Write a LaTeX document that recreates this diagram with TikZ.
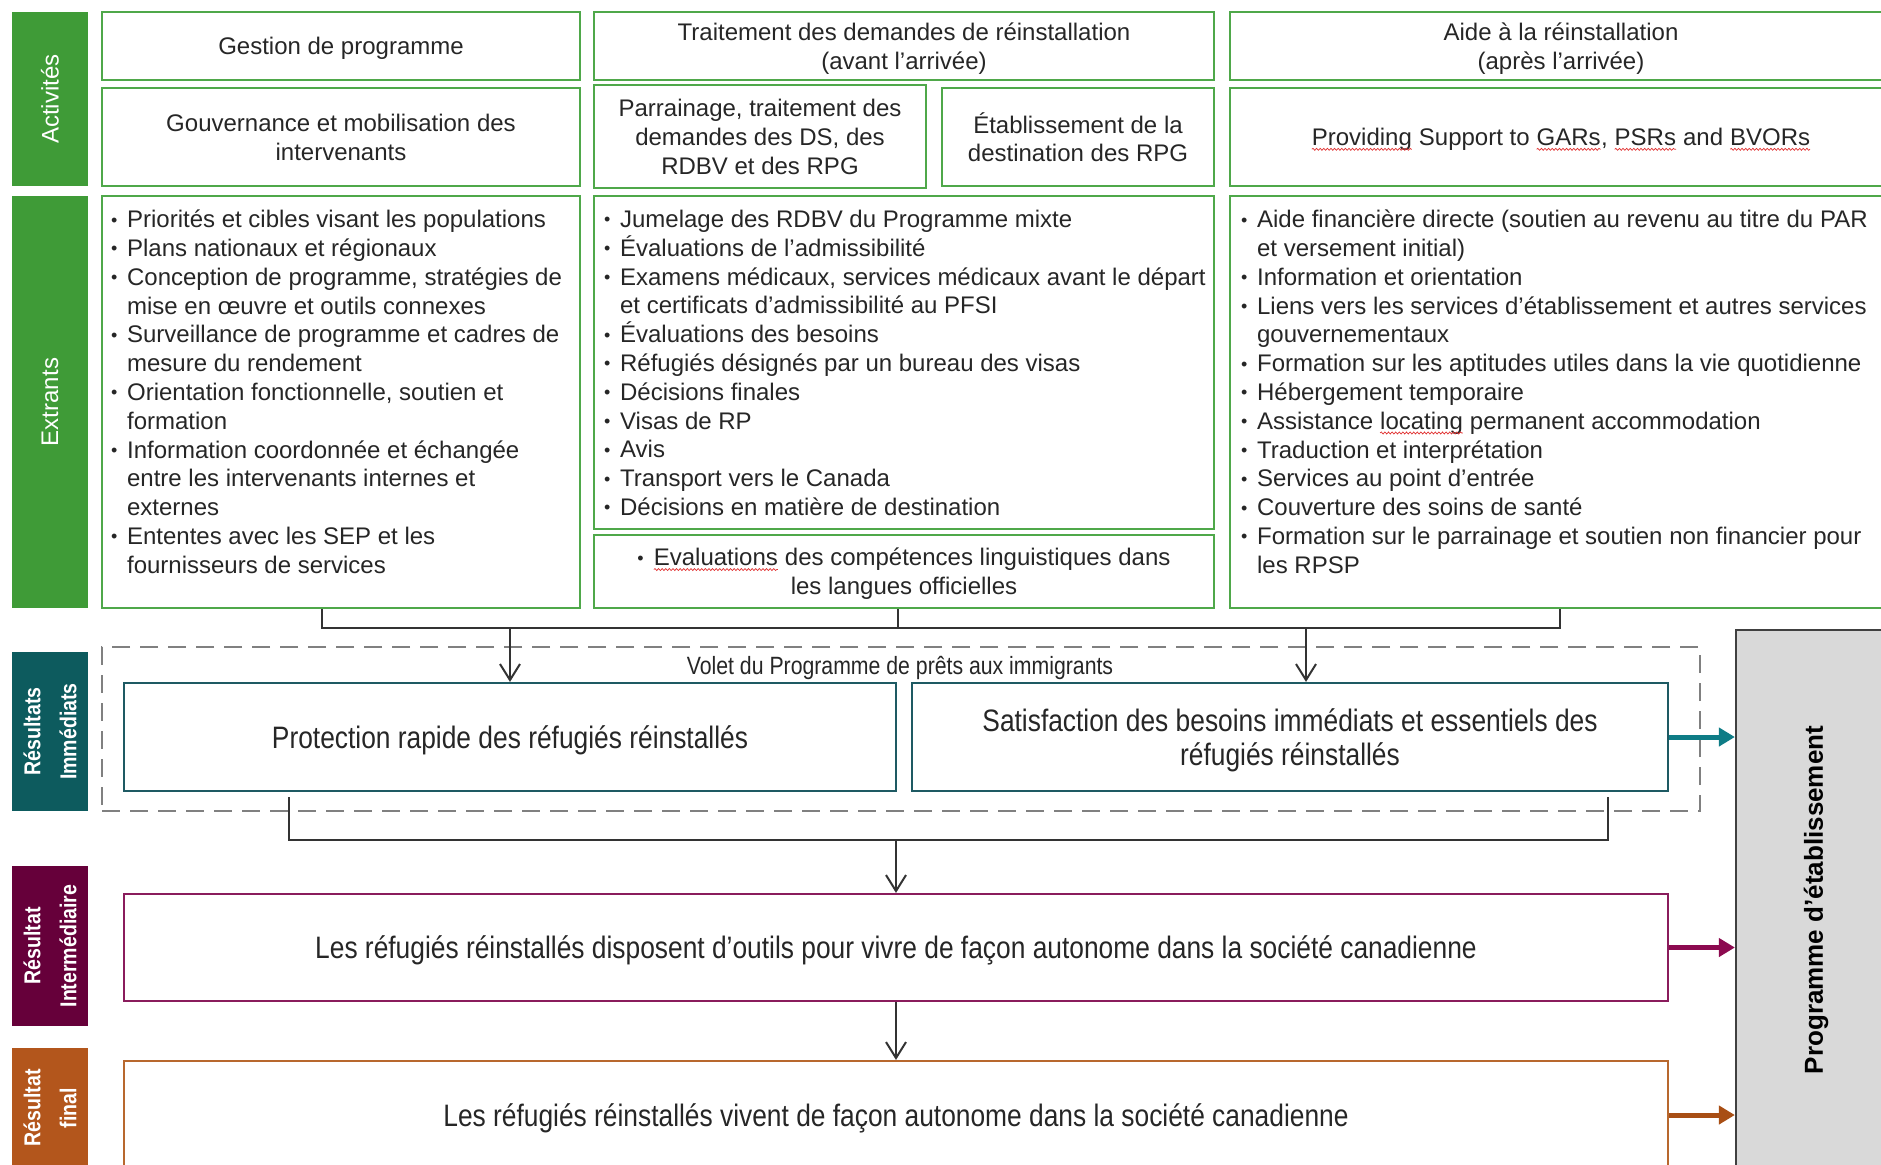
\documentclass[tikz,border=0pt]{standalone}
\usepackage{fontspec}
\setmainfont{Liberation Sans}
\newfontfamily\narrow[FakeStretch=0.85]{Liberation Sans}
\usetikzlibrary{arrows.meta,calc,decorations.pathmorphing}
\definecolor{txt}{HTML}{262626}
\definecolor{gside}{HTML}{3F9B37}
\definecolor{gline}{HTML}{4FA84A}
\definecolor{tside}{HTML}{0D5B5E}
\definecolor{tline}{HTML}{1E5A63}
\definecolor{tarrow}{HTML}{0E7C86}
\definecolor{mside}{HTML}{66003A}
\definecolor{mline}{HTML}{8A1C5C}
\definecolor{marrow}{HTML}{8C0A50}
\definecolor{oside}{HTML}{B3561C}
\definecolor{oline}{HTML}{B8682E}
\definecolor{oarrow}{HTML}{A84E14}
\definecolor{pfill}{HTML}{D9D9D9}
\definecolor{pline}{HTML}{404040}
\definecolor{dline}{HTML}{808080}
\definecolor{cline}{HTML}{333333}
\definecolor{squig}{HTML}{E03030}
\newcommand\bu{\makebox[8pt][l]{\fontsize{9}{9}\selectfont\raisebox{0.8pt}{•}}}
\newcommand\cu{\hspace*{8pt}}
\newcommand\sq[1]{\tikz[baseline=(sqw.base),x=1pt,y=1pt]{\node[draw=none,fill=none,minimum width=0pt,minimum height=0pt,inner sep=0pt,outer sep=0pt,anchor=base,rotate=0,line width=0.4pt,text depth=] (sqw) {#1};
  \draw[squig, line width=0.35pt, decorate, decoration={snake, amplitude=0.5pt, segment length=1.8pt}]
  ([yshift=-1.8pt]sqw.base west) -- ([yshift=-1.8pt]sqw.base east);}}
\begin{document}
\begin{tikzpicture}[x=0.5pt,y=-0.5pt,
  every node/.style={text=txt, inner sep=0pt},
  body/.style={font=\fontsize{12}{14.4}\selectfont},
  gbox/.style={draw=gline, line width=1.3pt, align=center, body, text depth=0pt},
  sidetxt/.style={text=white, rotate=90, align=center},
  sidebold/.style={sidetxt, font=\narrow\bfseries\fontsize{11.5}{18}\selectfont},
  rbox/.style={line width=1.1pt, align=center, text depth=0pt, font=\narrow\fontsize{15.5}{17}\selectfont},
  conn/.style={draw=cline, line width=1pt},
  arr/.style={conn, -{Straight Barb[length=8pt,width=10pt]}},
  carrow/.style={line width=2.5pt, -{Triangle[length=8pt,width=9pt]}},
  list/.style={anchor=north west, align=left, body}
]
\useasboundingbox (0,0) rectangle (1881,1164);
\clip (0,0) rectangle (1881,1164);

% side labels
\node[fill=gside, minimum width=38pt, minimum height=87pt] (sA) at (50,99) {};
\node[sidetxt, body] (lA) at (sA.center) {Activités};
\node[fill=gside, minimum width=38pt, minimum height=206pt] (sE) at (50,402) {};
\node[sidetxt, body] (lE) at (sE.center) {Extrants};
\node[fill=tside, minimum width=38pt, minimum height=79.5pt] (sR) at (50,731.5) {};
\node[sidebold] (lR) at (sR.center) {Résultats\\Immédiats};
\node[fill=mside, minimum width=38pt, minimum height=80pt] (sI) at (50,946) {};
\node[sidebold] (lI) at (sI.center) {Résultat\\Intermédiaire};
\node[fill=oside, minimum width=38pt, minimum height=76pt] (sF) at (50,1124) {};
\node[sidebold] (lF) at (50,1108) {Résultat\\final};

% activities
\node[gbox, minimum width=239pt, minimum height=34pt] (gest) at (341,46) {Gestion de programme};
\node[gbox, minimum width=310pt, minimum height=34pt] (trait) at (904,46) {Traitement des demandes de réinstallation\\(avant l’arrivée)};
\node[gbox, minimum width=331pt, minimum height=34pt] (aide) at (1561,46) {Aide à la réinstallation\\(après l’arrivée)};
\node[gbox, minimum width=239pt, minimum height=49pt] (gouv) at (341,137) {Gouvernance et mobilisation des\\intervenants};
\node[gbox, minimum width=166pt, minimum height=51.5pt] (parr) at (760,136.5) {Parrainage, traitement des\\demandes des DS, des\\RDBV et des RPG};
\node[gbox, minimum width=136pt, minimum height=49pt] (etab) at (1078,137) {Établissement de la\\destination des RPG};
\node[gbox, minimum width=331pt, minimum height=49pt] (prov) at (1561,137) {\sq{Providing} Support to \sq{GARs}, \sq{PSRs} and \sq{BVORs}};

% outputs
\node[gbox, minimum width=239pt, minimum height=206pt] (ext1) at (341,402) {};
\node[gbox, minimum width=310pt, minimum height=166.5pt] (ext2) at (904,362.5) {};
\node[gbox, minimum width=310pt, minimum height=36.5pt] (eval) at (904,571.5) {\bu \sq{Evaluations} des compétences linguistiques dans\\les langues officielles};
\node[gbox, minimum width=331pt, minimum height=206pt] (ext3) at (1561,402) {};

\node[list] (li1) at ($(ext1.north west)+(10,15)$) {\bu Priorités et cibles visant les populations\\
\bu Plans nationaux et régionaux\\
\bu Conception de programme, stratégies de\\
\cu mise en œuvre et outils connexes\\
\bu Surveillance de programme et cadres de\\
\cu mesure du rendement\\
\bu Orientation fonctionnelle, soutien et\\
\cu formation\\
\bu Information coordonnée et échangée\\
\cu entre les intervenants internes et\\
\cu externes\\
\bu Ententes avec les SEP et les\\
\cu fournisseurs de services};

\node[list] (li2) at ($(ext2.north west)+(11,15)$) {\bu Jumelage des RDBV du Programme mixte\\
\bu Évaluations de l’admissibilité\\
\bu Examens médicaux, services médicaux avant le départ\\
\cu et certificats d’admissibilité au PFSI\\
\bu Évaluations des besoins\\
\bu Réfugiés désignés par un bureau des visas\\
\bu Décisions finales\\
\bu Visas de RP\\
\bu Avis\\
\bu Transport vers le Canada\\
\bu Décisions en matière de destination};

\node[list] (li3) at ($(ext3.north west)+(12,15)$) {\bu Aide financière directe (soutien au revenu au titre du PAR\\
\cu et versement initial)\\
\bu Information et orientation\\
\bu Liens vers les services d’établissement et autres services\\
\cu gouvernementaux\\
\bu Formation sur les aptitudes utiles dans la vie quotidienne\\
\bu Hébergement temporaire\\
\bu Assistance \sq{locating} permanent accommodation\\
\bu Traduction et interprétation\\
\bu Services au point d’entrée\\
\bu Couverture des soins de santé\\
\bu Formation sur le parrainage et soutien non financier pour\\
\cu les RPSP};

% outcomes
\node[draw=dline, dash pattern=on 9pt off 5pt, line width=1.4pt, minimum width=799pt, minimum height=82pt] (volet) at (901,729) {};
\node[font=\narrow\fontsize{12.5}{15}\selectfont] (voletlbl) at (900,668) {Volet du Programme de prêts aux immigrants};
\node[rbox, draw=tline, minimum width=386pt, minimum height=54pt] (prot) at (510,737) {Protection rapide des réfugiés réinstallés};
\node[rbox, draw=tline, minimum width=378pt, minimum height=54pt] (sat) at (1290,737) {Satisfaction des besoins immédiats et essentiels des\\réfugiés réinstallés};
\node[rbox, draw=mline, minimum width=772pt, minimum height=53.5pt] (inter) at (896,947.5) {Les réfugiés réinstallés disposent d’outils pour vivre de façon autonome dans la société canadienne};
\node[rbox, draw=oline, minimum width=772pt, minimum height=54pt] (final) at (896,1115) {Les réfugiés réinstallés vivent de façon autonome dans la société canadienne};
\node[fill=pfill, draw=pline, line width=1.1pt, minimum width=82pt, minimum height=280pt] (prog) at (1818,910) {};
\node[rotate=90, font=\bfseries\fontsize{13}{15}\selectfont, text=black] (progtxt) at (1816,900) {Programme d’établissement};

% connectors
\coordinate (c1) at (322,628);
\coordinate (c2) at (898,628);
\coordinate (c3) at (1560,628);
\coordinate (a2) at (1306,628);
\draw[conn] (ext1.south -| c1) -- (c1) -- (c3) -- (ext3.south -| c3);
\draw[conn] (eval.south -| c2) -- (c2);
\draw[arr] (prot.north |- c1) -- (prot.north);
\draw[arr] (a2) -- (a2 |- sat.north);
\coordinate (d1) at (289,840);
\coordinate (d2) at (1608,840);
\draw[conn] ([yshift=-2.5pt]prot.south -| d1) -- (d1) -- (d2) -- ([yshift=-2.5pt]sat.south -| d2);
\draw[arr] (inter.north |- d1) -- (inter.north);
\draw[arr] (inter.south) -- (final.north);
\draw[carrow, draw=tarrow, fill=tarrow] (sat.east) -- (sat.east -| prog.west);
\draw[carrow, draw=marrow, fill=marrow] (inter.east) -- (inter.east -| prog.west);
\draw[carrow, draw=oarrow, fill=oarrow] (final.east) -- (final.east -| prog.west);
\end{tikzpicture}
\end{document}
